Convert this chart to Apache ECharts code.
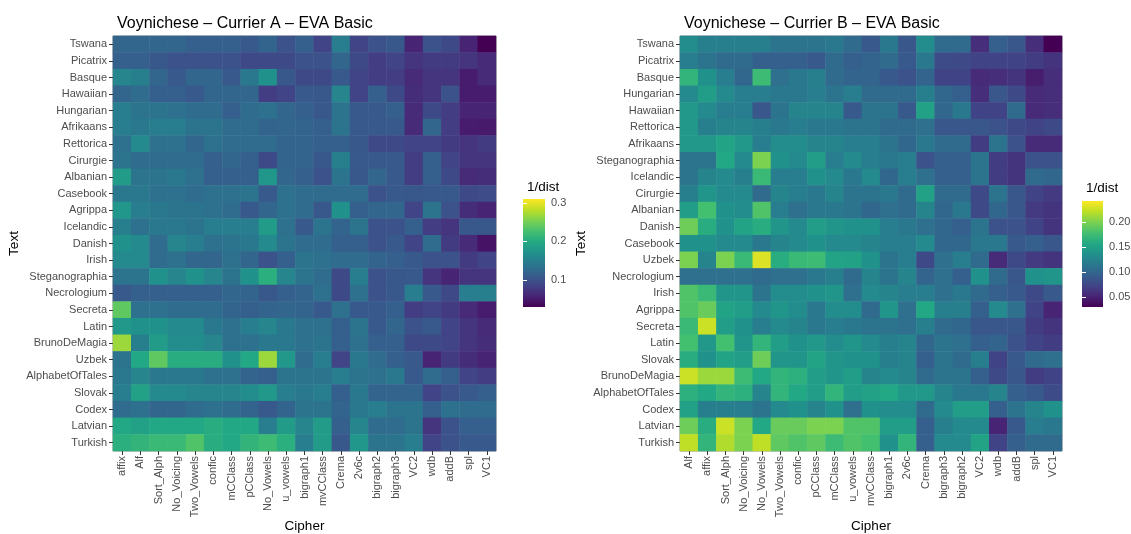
<!DOCTYPE html>
<html>
<head>
<meta charset="utf-8">
<script src="https://cdn.jsdelivr.net/npm/echarts@6/dist/echarts.min.js"></script>
<style>html,body{margin:0;padding:0;background:#fff}#c{width:1131px;height:534px}</style>
</head>
<body>
<div id="c"></div>
<script>
// ---------- Data ----------
const textsA = ['Tswana','Picatrix','Basque','Hawaiian','Hungarian','Afrikaans','Rettorica','Cirurgie','Albanian','Casebook','Agrippa','Icelandic','Danish','Irish','Steganographia','Necrologium','Secreta','Latin','BrunoDeMagia','Uzbek','AlphabetOfTales','Slovak','Codex','Latvian','Turkish'];
const ciphersA = ['affix','Alf','Sort_Alph','No_Voicing','Two_Vowels','confic','mCClass','pCClass','No_Vowels','u_vowels','bigraph1','mvCClass','Crema','2v6c','bigraph2','bigraph3','VC2','wdb','addB','spl','VC1'];
const valuesA = [
[0.122,0.122,0.122,0.122,0.114,0.114,0.114,0.108,0.120,0.100,0.114,0.086,0.148,0.086,0.100,0.106,0.058,0.100,0.092,0.058,0.030],
[0.114,0.114,0.106,0.100,0.100,0.100,0.100,0.092,0.092,0.092,0.100,0.100,0.122,0.092,0.080,0.086,0.072,0.078,0.078,0.072,0.064],
[0.156,0.150,0.122,0.108,0.122,0.122,0.108,0.142,0.170,0.106,0.092,0.092,0.108,0.086,0.080,0.080,0.064,0.072,0.072,0.052,0.064],
[0.122,0.128,0.114,0.114,0.108,0.122,0.122,0.122,0.080,0.086,0.108,0.106,0.156,0.086,0.114,0.092,0.066,0.072,0.100,0.052,0.052],
[0.148,0.136,0.136,0.134,0.128,0.128,0.114,0.128,0.134,0.122,0.114,0.106,0.136,0.108,0.108,0.114,0.064,0.092,0.080,0.058,0.058],
[0.148,0.142,0.148,0.148,0.136,0.136,0.128,0.128,0.120,0.122,0.120,0.114,0.136,0.108,0.108,0.108,0.064,0.122,0.080,0.052,0.050],
[0.134,0.162,0.134,0.134,0.122,0.134,0.128,0.128,0.128,0.120,0.120,0.114,0.114,0.106,0.092,0.092,0.086,0.086,0.078,0.072,0.078],
[0.136,0.128,0.128,0.128,0.128,0.114,0.122,0.114,0.092,0.120,0.120,0.106,0.150,0.108,0.108,0.108,0.080,0.114,0.086,0.072,0.072],
[0.184,0.136,0.136,0.142,0.134,0.114,0.114,0.114,0.176,0.122,0.114,0.100,0.136,0.106,0.122,0.108,0.080,0.114,0.092,0.064,0.066],
[0.142,0.142,0.134,0.134,0.128,0.134,0.134,0.136,0.108,0.134,0.128,0.128,0.128,0.128,0.100,0.108,0.106,0.108,0.108,0.092,0.094],
[0.176,0.148,0.142,0.136,0.136,0.134,0.128,0.108,0.122,0.134,0.128,0.106,0.170,0.114,0.122,0.122,0.086,0.136,0.100,0.066,0.058],
[0.150,0.134,0.142,0.142,0.136,0.148,0.148,0.148,0.184,0.134,0.108,0.136,0.120,0.136,0.100,0.100,0.114,0.080,0.072,0.106,0.106],
[0.170,0.162,0.128,0.156,0.148,0.134,0.136,0.142,0.162,0.136,0.128,0.128,0.114,0.114,0.100,0.108,0.086,0.128,0.078,0.064,0.044],
[0.162,0.162,0.128,0.134,0.122,0.122,0.134,0.122,0.100,0.114,0.136,0.134,0.128,0.128,0.120,0.114,0.108,0.100,0.100,0.078,0.086],
[0.136,0.136,0.170,0.156,0.170,0.156,0.136,0.170,0.206,0.156,0.136,0.128,0.092,0.148,0.100,0.106,0.108,0.072,0.058,0.072,0.072],
[0.108,0.114,0.114,0.114,0.114,0.114,0.122,0.120,0.106,0.114,0.120,0.134,0.092,0.134,0.100,0.106,0.148,0.108,0.092,0.148,0.150],
[0.240,0.134,0.134,0.128,0.128,0.128,0.120,0.114,0.120,0.122,0.120,0.108,0.134,0.108,0.108,0.114,0.080,0.086,0.078,0.064,0.052],
[0.178,0.170,0.170,0.162,0.162,0.142,0.134,0.148,0.156,0.142,0.134,0.134,0.114,0.136,0.108,0.122,0.100,0.108,0.086,0.072,0.064],
[0.268,0.150,0.184,0.164,0.164,0.156,0.134,0.134,0.142,0.142,0.134,0.136,0.114,0.134,0.114,0.114,0.092,0.092,0.086,0.072,0.066],
[0.136,0.198,0.240,0.204,0.204,0.204,0.170,0.198,0.268,0.178,0.128,0.148,0.086,0.142,0.128,0.114,0.108,0.058,0.078,0.066,0.058],
[0.142,0.156,0.142,0.142,0.142,0.134,0.134,0.120,0.114,0.136,0.136,0.136,0.148,0.136,0.134,0.142,0.108,0.128,0.114,0.086,0.080],
[0.148,0.190,0.162,0.162,0.156,0.156,0.156,0.164,0.178,0.148,0.142,0.148,0.114,0.142,0.120,0.120,0.120,0.086,0.100,0.108,0.114],
[0.128,0.134,0.122,0.122,0.128,0.134,0.128,0.120,0.108,0.120,0.136,0.136,0.120,0.142,0.148,0.136,0.136,0.114,0.134,0.128,0.128],
[0.198,0.190,0.198,0.198,0.198,0.204,0.198,0.198,0.148,0.184,0.156,0.184,0.114,0.156,0.128,0.128,0.136,0.072,0.100,0.114,0.114],
[0.206,0.212,0.218,0.218,0.232,0.204,0.198,0.212,0.220,0.206,0.148,0.184,0.106,0.176,0.136,0.136,0.148,0.086,0.100,0.108,0.108]
];

const textsB = ['Tswana','Picatrix','Basque','Hungarian','Hawaiian','Rettorica','Afrikaans','Steganographia','Icelandic','Cirurgie','Albanian','Danish','Casebook','Uzbek','Necrologium','Irish','Agrippa','Secreta','Latin','Slovak','BrunoDeMagia','AlphabetOfTales','Codex','Latvian','Turkish'];
const ciphersB = ['Alf','affix','Sort_Alph','No_Voicing','No_Vowels','Two_Vowels','confic','pCClass','mCClass','u_vowels','mvCClass','bigraph1','2v6c','Crema','bigraph3','bigraph2','VC2','wdb','addB','spl','VC1'];
const valuesB = [
[0.132,0.121,0.121,0.121,0.121,0.111,0.111,0.111,0.115,0.104,0.089,0.115,0.087,0.132,0.104,0.104,0.058,0.094,0.087,0.058,0.030],
[0.119,0.111,0.104,0.104,0.094,0.094,0.094,0.089,0.104,0.094,0.098,0.104,0.089,0.115,0.079,0.077,0.072,0.072,0.072,0.068,0.062],
[0.168,0.136,0.119,0.100,0.174,0.108,0.115,0.121,0.104,0.098,0.098,0.089,0.083,0.098,0.072,0.072,0.055,0.058,0.062,0.047,0.058],
[0.130,0.147,0.130,0.119,0.119,0.115,0.115,0.119,0.111,0.119,0.104,0.104,0.104,0.121,0.100,0.094,0.058,0.087,0.077,0.055,0.058],
[0.142,0.130,0.119,0.119,0.087,0.111,0.125,0.125,0.125,0.089,0.111,0.111,0.089,0.151,0.100,0.115,0.072,0.072,0.104,0.055,0.058],
[0.142,0.121,0.125,0.125,0.121,0.115,0.119,0.115,0.115,0.111,0.111,0.104,0.104,0.108,0.087,0.087,0.087,0.083,0.077,0.072,0.077],
[0.142,0.142,0.153,0.142,0.119,0.132,0.132,0.125,0.125,0.119,0.119,0.111,0.100,0.115,0.104,0.104,0.068,0.111,0.083,0.055,0.055],
[0.111,0.111,0.157,0.130,0.200,0.136,0.130,0.147,0.119,0.130,0.119,0.115,0.119,0.083,0.094,0.094,0.111,0.068,0.062,0.083,0.083],
[0.111,0.125,0.130,0.121,0.172,0.119,0.119,0.136,0.130,0.115,0.130,0.100,0.119,0.108,0.094,0.094,0.111,0.068,0.062,0.104,0.100],
[0.121,0.140,0.130,0.130,0.104,0.125,0.119,0.115,0.125,0.111,0.111,0.115,0.104,0.151,0.104,0.104,0.077,0.111,0.087,0.072,0.066],
[0.147,0.178,0.136,0.132,0.183,0.119,0.108,0.115,0.115,0.111,0.100,0.108,0.104,0.125,0.100,0.115,0.077,0.100,0.087,0.066,0.062],
[0.195,0.161,0.136,0.153,0.161,0.140,0.130,0.147,0.140,0.136,0.136,0.119,0.115,0.108,0.100,0.094,0.111,0.083,0.083,0.072,0.062],
[0.136,0.136,0.130,0.130,0.115,0.125,0.130,0.136,0.130,0.130,0.125,0.119,0.119,0.130,0.100,0.100,0.115,0.115,0.089,0.094,0.087],
[0.200,0.125,0.200,0.172,0.231,0.161,0.172,0.174,0.153,0.151,0.136,0.111,0.119,0.077,0.108,0.119,0.104,0.055,0.077,0.066,0.062],
[0.108,0.108,0.108,0.108,0.104,0.108,0.108,0.115,0.121,0.104,0.125,0.111,0.125,0.098,0.108,0.094,0.136,0.104,0.087,0.136,0.140],
[0.183,0.172,0.140,0.140,0.111,0.132,0.132,0.136,0.140,0.108,0.130,0.125,0.119,0.119,0.108,0.115,0.104,0.094,0.089,0.077,0.089],
[0.183,0.193,0.153,0.147,0.130,0.140,0.132,0.115,0.132,0.132,0.104,0.140,0.108,0.157,0.121,0.121,0.094,0.130,0.108,0.072,0.051],
[0.172,0.225,0.147,0.136,0.119,0.130,0.125,0.115,0.119,0.115,0.111,0.111,0.108,0.121,0.104,0.100,0.087,0.087,0.087,0.068,0.062],
[0.178,0.142,0.178,0.140,0.168,0.147,0.136,0.142,0.132,0.140,0.130,0.121,0.125,0.100,0.111,0.108,0.094,0.098,0.083,0.072,0.068],
[0.161,0.136,0.153,0.147,0.195,0.140,0.140,0.153,0.140,0.136,0.136,0.121,0.125,0.094,0.111,0.104,0.121,0.072,0.089,0.104,0.108],
[0.225,0.210,0.210,0.174,0.157,0.168,0.164,0.147,0.140,0.147,0.125,0.130,0.125,0.104,0.111,0.111,0.094,0.077,0.087,0.068,0.072],
[0.164,0.157,0.168,0.164,0.125,0.168,0.157,0.147,0.168,0.147,0.151,0.157,0.142,0.142,0.125,0.115,0.115,0.125,0.094,0.089,0.079],
[0.151,0.121,0.121,0.119,0.111,0.130,0.136,0.125,0.136,0.108,0.136,0.132,0.132,0.104,0.130,0.147,0.147,0.094,0.111,0.125,0.136],
[0.195,0.161,0.225,0.200,0.157,0.193,0.193,0.200,0.200,0.183,0.183,0.147,0.147,0.094,0.121,0.130,0.130,0.051,0.089,0.119,0.115],
[0.221,0.168,0.217,0.200,0.221,0.189,0.183,0.189,0.174,0.183,0.178,0.136,0.168,0.094,0.130,0.130,0.153,0.072,0.094,0.104,0.104]
];

const rangeA = [0.03, 0.31];
const rangeB = [0.03, 0.242];
const legendTicksA = [0.1, 0.2, 0.3];
const legendTicksB = [0.05, 0.10, 0.15, 0.20];

// ---------- Chart ----------
const viridis = ['#440154','#482475','#414487','#355f8d','#2a788e','#21918c','#22a884','#44bf70','#7ad151','#bddf26','#fde725'];
const FONT = '"Liberation Sans", Arial, Helvetica, sans-serif';
const LABEL = '#4d4d4d';

function cells(rows){const out=[];rows.forEach((r,yi)=>r.forEach((v,xi)=>out.push([xi,yi,v])));return out;}

const GA = {left:113, top:36, width:383, height:415};
const GB = {left:680, top:36, width:382, height:415};
const LA = {left:523, top:199, width:22, height:108};
const LB = {left:1082, top:201, width:21, height:106};

function catX(idx, data){
  return {type:'category', gridIndex:idx, data:data, axisLine:{show:false},
    axisTick:{show:true, alignWithLabel:true, length:4, lineStyle:{color:'#333', width:1}},
    axisLabel:{rotate:90, fontSize:11, color:LABEL, fontFamily:FONT, margin:5, interval:0},
    splitLine:{show:false},
    name:'Cipher', nameLocation:'middle', nameGap:68, nameMoveOverlap:false,
    nameTextStyle:{fontSize:13.5, color:'#000', fontFamily:FONT}};
}
function catY(idx, data){
  return {type:'category', gridIndex:idx, data:data, inverse:true, axisLine:{show:false},
    axisTick:{show:true, alignWithLabel:true, length:4, lineStyle:{color:'#333', width:1}},
    axisLabel:{fontSize:11, color:LABEL, fontFamily:FONT, margin:6, interval:0},
    splitLine:{show:false},
    name:'Text', nameLocation:'middle', nameGap:92, nameRotate:90, nameMoveOverlap:false,
    nameTextStyle:{fontSize:13.5, color:'#000', fontFamily:FONT}};
}
function legX(idx){return {type:'value', gridIndex:idx, show:false, min:0, max:1};}
function legY(idx, range, ticks, fmt, pos){
  return {type:'value', gridIndex:idx, min:range[0], max:range[1], position:pos,
    axisLine:{show:false}, splitLine:{show:false},
    axisTick:{show:true, inside:true, length:4, customValues:ticks, lineStyle:{color:'#fff', width:1}},
    axisLabel:{show:pos==='right', customValues:ticks, formatter:fmt, fontSize:11, color:LABEL, fontFamily:FONT, margin:6}};
}
function gradRect(L){
  return {type:'rect', left:L.left, top:L.top, z:-1, shape:{width:L.width, height:L.height},
    style:{fill:new echarts.graphic.LinearGradient(0,1,0,0, viridis.map((c,i)=>({offset:i/(viridis.length-1), color:c})))}};
}
const gridBase = {outerBoundsMode:'none', containLabel:false};

const chart = echarts.init(document.getElementById('c'), null, {renderer:'canvas'});
chart.setOption({
  backgroundColor:'#fff',
  animation:false,
  title:[
    {text:'Voynichese – Currier A – EVA Basic', left:112, top:11, textStyle:{fontSize:16, fontWeight:'normal', color:'#000', fontFamily:FONT}},
    {text:'Voynichese – Currier B – EVA Basic', left:679, top:11, textStyle:{fontSize:16, fontWeight:'normal', color:'#000', fontFamily:FONT}},
    {text:'1/dist', left:522, top:175, textStyle:{fontSize:13.5, fontWeight:'normal', color:'#000', fontFamily:FONT}},
    {text:'1/dist', left:1081, top:176, textStyle:{fontSize:13.5, fontWeight:'normal', color:'#000', fontFamily:FONT}}
  ],
  grid:[
    Object.assign({show:true, borderColor:'#8a8a8a', borderWidth:1, backgroundColor:'transparent'}, gridBase, GA),
    Object.assign({show:true, borderColor:'#8a8a8a', borderWidth:1, backgroundColor:'transparent'}, gridBase, GB),
    Object.assign({show:false}, gridBase, LA),
    Object.assign({show:false}, gridBase, LB)
  ],
  xAxis:[catX(0, ciphersA), catX(1, ciphersB), legX(2), legX(3)],
  yAxis:[catY(0, textsA), catY(1, textsB),
    legY(2, rangeA, legendTicksA, v=>v.toFixed(1), 'right'), legY(3, rangeB, legendTicksB, v=>v.toFixed(2), 'right'),
    legY(2, rangeA, legendTicksA, v=>v.toFixed(1), 'left'), legY(3, rangeB, legendTicksB, v=>v.toFixed(2), 'left')],
  visualMap:[
    {type:'continuous', show:false, seriesIndex:0, min:rangeA[0], max:rangeA[1], inRange:{color:viridis}},
    {type:'continuous', show:false, seriesIndex:1, min:rangeB[0], max:rangeB[1], inRange:{color:viridis}}
  ],
  graphic:[gradRect(LA), gradRect(LB)],
  series:[
    {type:'heatmap', xAxisIndex:0, yAxisIndex:0, data:cells(valuesA), itemStyle:{borderWidth:0}, emphasis:{disabled:true}, progressive:0},
    {type:'heatmap', xAxisIndex:1, yAxisIndex:1, data:cells(valuesB), itemStyle:{borderWidth:0}, emphasis:{disabled:true}, progressive:0}
  ]
});
</script>
</body>
</html>
